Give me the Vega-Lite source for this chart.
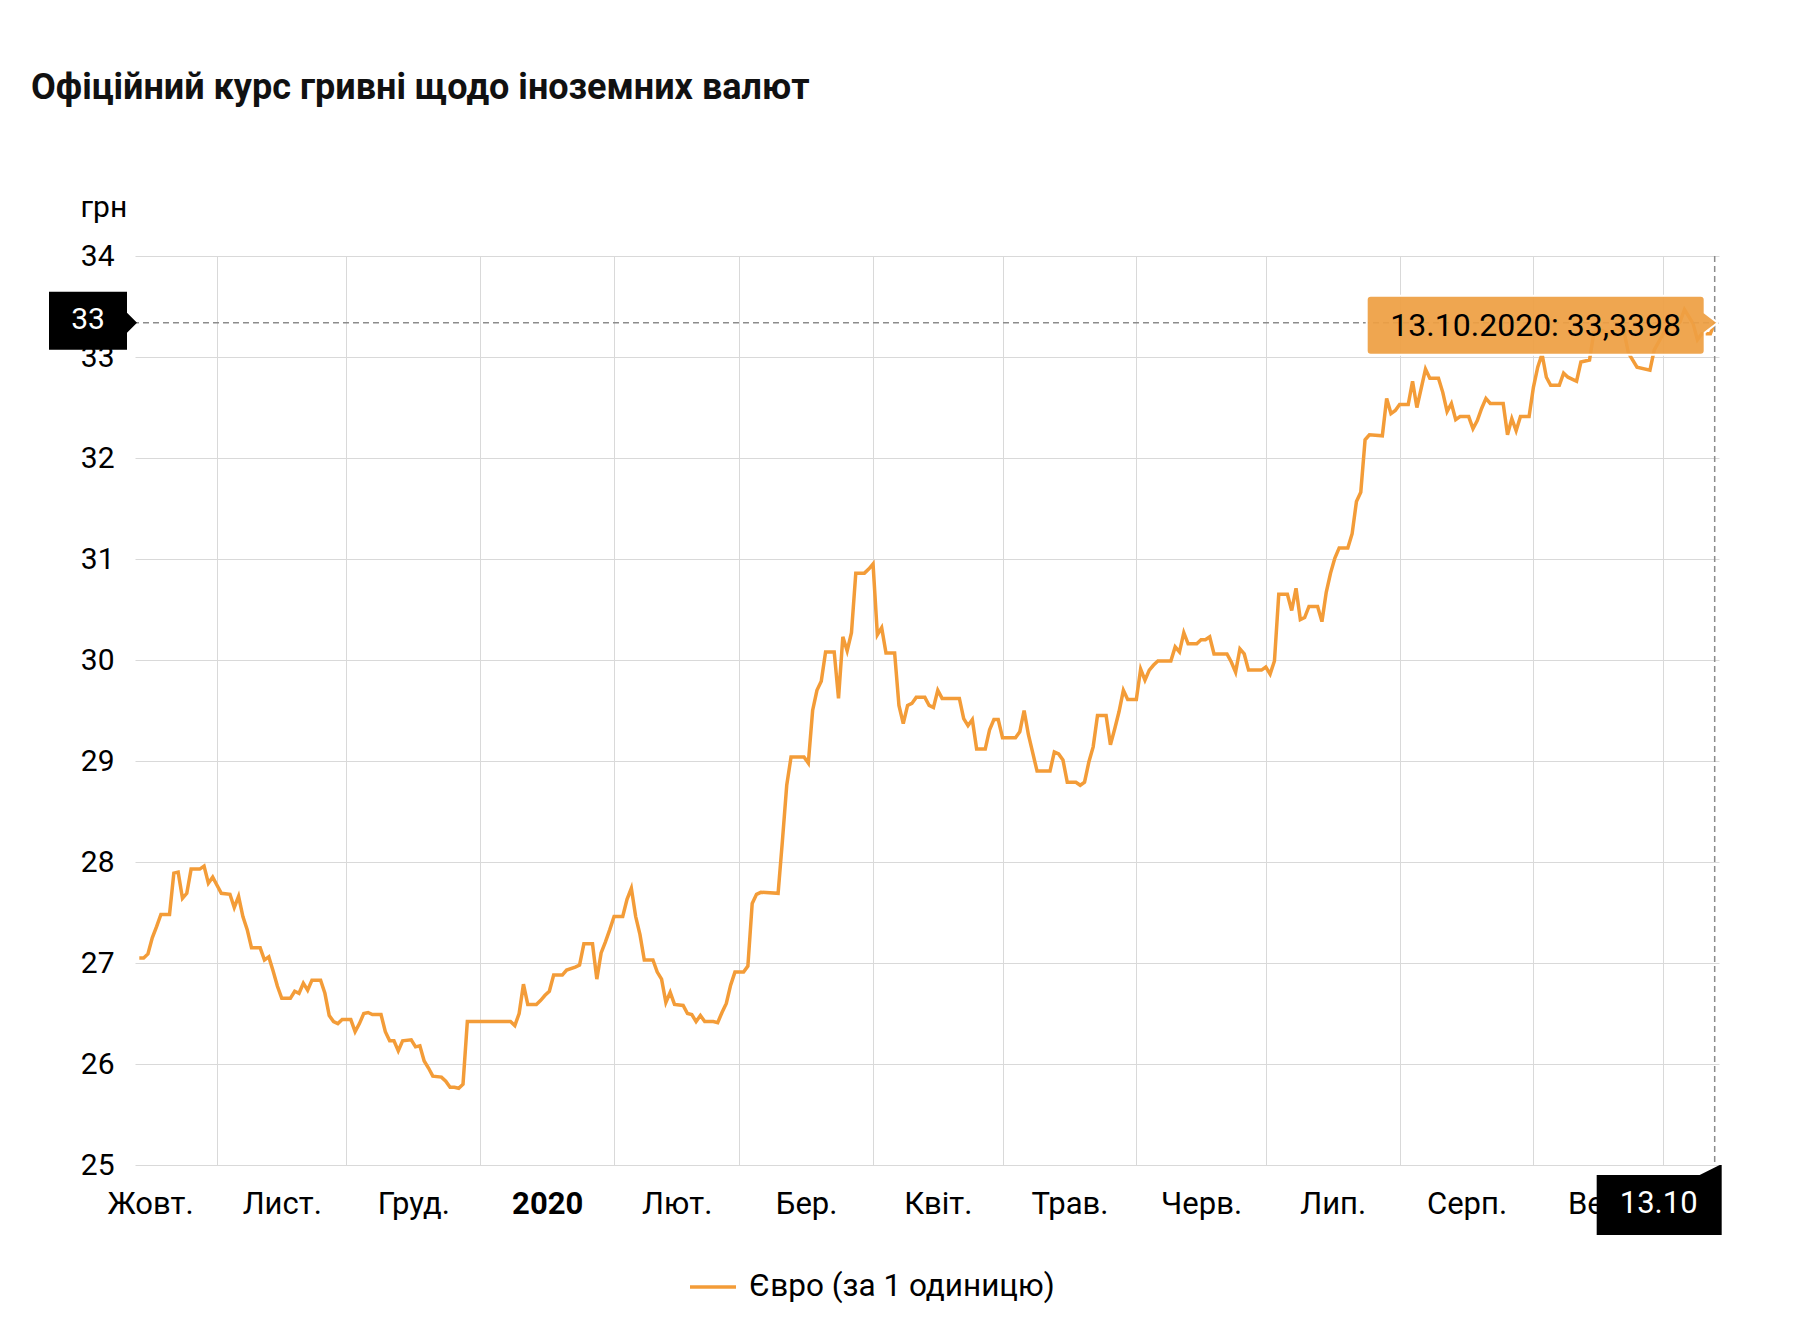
{
  "$schema": "https://vega.github.io/schema/vega-lite/v6.json",
  "width": 1584,
  "height": 909,
  "autosize": {"type": "none"},
  "padding": {"left": 135, "top": 256, "right": 89, "bottom": 179},
  "background": "#ffffff",
  "config": {"view": {"stroke": null}, "font": "Roboto"},
  "title": {
    "text": "Офіційний курс гривні щодо іноземних валют",
    "anchor": "start",
    "frame": "group",
    "orient": "top",
    "dx": -104,
    "offset": 85,
    "fontSize": 36,
    "fontWeight": "bold",
    "font": "Roboto",
    "color": "#111111"
  },
  "datasets": {
    "eur": [
      {"d": "2019-10-14", "v": 27.05}, {"d": "2019-10-15", "v": 27.05}, {"d": "2019-10-16", "v": 27.09}, {"d": "2019-10-17", "v": 27.25},
      {"d": "2019-10-18", "v": 27.36}, {"d": "2019-10-19", "v": 27.48}, {"d": "2019-10-21", "v": 27.48}, {"d": "2019-10-22", "v": 27.89},
      {"d": "2019-10-23", "v": 27.90}, {"d": "2019-10-24", "v": 27.64}, {"d": "2019-10-25", "v": 27.69}, {"d": "2019-10-26", "v": 27.93},
      {"d": "2019-10-28", "v": 27.93}, {"d": "2019-10-29", "v": 27.96}, {"d": "2019-10-30", "v": 27.79}, {"d": "2019-10-31", "v": 27.85},
      {"d": "2019-11-01", "v": 27.77}, {"d": "2019-11-02", "v": 27.69}, {"d": "2019-11-04", "v": 27.68}, {"d": "2019-11-05", "v": 27.55},
      {"d": "2019-11-06", "v": 27.66}, {"d": "2019-11-07", "v": 27.46}, {"d": "2019-11-08", "v": 27.33}, {"d": "2019-11-09", "v": 27.15},
      {"d": "2019-11-11", "v": 27.15}, {"d": "2019-11-12", "v": 27.03}, {"d": "2019-11-13", "v": 27.06}, {"d": "2019-11-14", "v": 26.92},
      {"d": "2019-11-15", "v": 26.77}, {"d": "2019-11-16", "v": 26.65}, {"d": "2019-11-18", "v": 26.65}, {"d": "2019-11-19", "v": 26.72},
      {"d": "2019-11-20", "v": 26.70}, {"d": "2019-11-21", "v": 26.80}, {"d": "2019-11-22", "v": 26.73}, {"d": "2019-11-23", "v": 26.83},
      {"d": "2019-11-25", "v": 26.83}, {"d": "2019-11-26", "v": 26.70}, {"d": "2019-11-27", "v": 26.48}, {"d": "2019-11-28", "v": 26.42},
      {"d": "2019-11-29", "v": 26.40}, {"d": "2019-11-30", "v": 26.44}, {"d": "2019-12-02", "v": 26.44}, {"d": "2019-12-03", "v": 26.32},
      {"d": "2019-12-04", "v": 26.40}, {"d": "2019-12-05", "v": 26.50}, {"d": "2019-12-06", "v": 26.51}, {"d": "2019-12-07", "v": 26.49},
      {"d": "2019-12-09", "v": 26.49}, {"d": "2019-12-10", "v": 26.32}, {"d": "2019-12-11", "v": 26.23}, {"d": "2019-12-12", "v": 26.23},
      {"d": "2019-12-13", "v": 26.13}, {"d": "2019-12-14", "v": 26.23}, {"d": "2019-12-16", "v": 26.24}, {"d": "2019-12-17", "v": 26.17},
      {"d": "2019-12-18", "v": 26.18}, {"d": "2019-12-19", "v": 26.03}, {"d": "2019-12-20", "v": 25.96}, {"d": "2019-12-21", "v": 25.88},
      {"d": "2019-12-23", "v": 25.87}, {"d": "2019-12-24", "v": 25.83}, {"d": "2019-12-25", "v": 25.77}, {"d": "2019-12-26", "v": 25.77},
      {"d": "2019-12-27", "v": 25.76}, {"d": "2019-12-28", "v": 25.80}, {"d": "2019-12-29", "v": 26.42}, {"d": "2020-01-08", "v": 26.42},
      {"d": "2020-01-09", "v": 26.38}, {"d": "2020-01-10", "v": 26.50}, {"d": "2020-01-11", "v": 26.79}, {"d": "2020-01-12", "v": 26.59},
      {"d": "2020-01-14", "v": 26.59}, {"d": "2020-01-15", "v": 26.63}, {"d": "2020-01-16", "v": 26.68}, {"d": "2020-01-17", "v": 26.72},
      {"d": "2020-01-18", "v": 26.88}, {"d": "2020-01-20", "v": 26.88}, {"d": "2020-01-21", "v": 26.93}, {"d": "2020-01-23", "v": 26.96},
      {"d": "2020-01-24", "v": 26.98}, {"d": "2020-01-25", "v": 27.19}, {"d": "2020-01-27", "v": 27.19}, {"d": "2020-01-28", "v": 26.84},
      {"d": "2020-01-29", "v": 27.10}, {"d": "2020-01-30", "v": 27.21}, {"d": "2020-01-31", "v": 27.33}, {"d": "2020-02-01", "v": 27.46},
      {"d": "2020-02-03", "v": 27.46}, {"d": "2020-02-04", "v": 27.63}, {"d": "2020-02-05", "v": 27.74}, {"d": "2020-02-06", "v": 27.46},
      {"d": "2020-02-07", "v": 27.28}, {"d": "2020-02-08", "v": 27.03}, {"d": "2020-02-10", "v": 27.03}, {"d": "2020-02-11", "v": 26.91},
      {"d": "2020-02-12", "v": 26.84}, {"d": "2020-02-13", "v": 26.61}, {"d": "2020-02-14", "v": 26.71}, {"d": "2020-02-15", "v": 26.59},
      {"d": "2020-02-17", "v": 26.58}, {"d": "2020-02-18", "v": 26.50}, {"d": "2020-02-19", "v": 26.49}, {"d": "2020-02-20", "v": 26.42},
      {"d": "2020-02-21", "v": 26.48}, {"d": "2020-02-22", "v": 26.42}, {"d": "2020-02-24", "v": 26.42}, {"d": "2020-02-25", "v": 26.41},
      {"d": "2020-02-26", "v": 26.51}, {"d": "2020-02-27", "v": 26.60}, {"d": "2020-02-28", "v": 26.78}, {"d": "2020-02-29", "v": 26.91},
      {"d": "2020-03-02", "v": 26.91}, {"d": "2020-03-03", "v": 26.97}, {"d": "2020-03-04", "v": 27.59}, {"d": "2020-03-05", "v": 27.68},
      {"d": "2020-03-06", "v": 27.70}, {"d": "2020-03-10", "v": 27.69}, {"d": "2020-03-11", "v": 28.21}, {"d": "2020-03-12", "v": 28.76},
      {"d": "2020-03-13", "v": 29.04}, {"d": "2020-03-16", "v": 29.04}, {"d": "2020-03-17", "v": 28.98}, {"d": "2020-03-18", "v": 29.50},
      {"d": "2020-03-19", "v": 29.70}, {"d": "2020-03-20", "v": 29.79}, {"d": "2020-03-21", "v": 30.08}, {"d": "2020-03-23", "v": 30.08},
      {"d": "2020-03-24", "v": 29.62}, {"d": "2020-03-25", "v": 30.23}, {"d": "2020-03-26", "v": 30.09}, {"d": "2020-03-27", "v": 30.27},
      {"d": "2020-03-28", "v": 30.86}, {"d": "2020-03-30", "v": 30.86}, {"d": "2020-03-31", "v": 30.90}, {"d": "2020-04-01", "v": 30.95},
      {"d": "2020-04-02", "v": 30.25}, {"d": "2020-04-03", "v": 30.32}, {"d": "2020-04-04", "v": 30.07}, {"d": "2020-04-06", "v": 30.07},
      {"d": "2020-04-07", "v": 29.55}, {"d": "2020-04-08", "v": 29.37}, {"d": "2020-04-09", "v": 29.55}, {"d": "2020-04-10", "v": 29.57},
      {"d": "2020-04-11", "v": 29.63}, {"d": "2020-04-13", "v": 29.63}, {"d": "2020-04-14", "v": 29.55}, {"d": "2020-04-15", "v": 29.53},
      {"d": "2020-04-16", "v": 29.70}, {"d": "2020-04-17", "v": 29.62}, {"d": "2020-04-21", "v": 29.62}, {"d": "2020-04-22", "v": 29.42},
      {"d": "2020-04-23", "v": 29.35}, {"d": "2020-04-24", "v": 29.41}, {"d": "2020-04-25", "v": 29.12}, {"d": "2020-04-27", "v": 29.12},
      {"d": "2020-04-28", "v": 29.31}, {"d": "2020-04-29", "v": 29.41}, {"d": "2020-04-30", "v": 29.41}, {"d": "2020-05-01", "v": 29.23},
      {"d": "2020-05-04", "v": 29.23}, {"d": "2020-05-05", "v": 29.29}, {"d": "2020-05-06", "v": 29.50}, {"d": "2020-05-07", "v": 29.26},
      {"d": "2020-05-08", "v": 29.08}, {"d": "2020-05-09", "v": 28.90}, {"d": "2020-05-12", "v": 28.90}, {"d": "2020-05-13", "v": 29.09},
      {"d": "2020-05-14", "v": 29.07}, {"d": "2020-05-15", "v": 29.01}, {"d": "2020-05-16", "v": 28.79}, {"d": "2020-05-18", "v": 28.79},
      {"d": "2020-05-19", "v": 28.76}, {"d": "2020-05-20", "v": 28.79}, {"d": "2020-05-21", "v": 28.99}, {"d": "2020-05-22", "v": 29.14},
      {"d": "2020-05-23", "v": 29.45}, {"d": "2020-05-25", "v": 29.45}, {"d": "2020-05-26", "v": 29.16}, {"d": "2020-05-27", "v": 29.32},
      {"d": "2020-05-28", "v": 29.49}, {"d": "2020-05-29", "v": 29.70}, {"d": "2020-05-30", "v": 29.61}, {"d": "2020-06-01", "v": 29.61},
      {"d": "2020-06-02", "v": 29.91}, {"d": "2020-06-03", "v": 29.80}, {"d": "2020-06-04", "v": 29.90}, {"d": "2020-06-05", "v": 29.95},
      {"d": "2020-06-06", "v": 29.99}, {"d": "2020-06-09", "v": 29.99}, {"d": "2020-06-10", "v": 30.13}, {"d": "2020-06-11", "v": 30.08},
      {"d": "2020-06-12", "v": 30.27}, {"d": "2020-06-13", "v": 30.16}, {"d": "2020-06-15", "v": 30.16}, {"d": "2020-06-16", "v": 30.20},
      {"d": "2020-06-17", "v": 30.20}, {"d": "2020-06-18", "v": 30.23}, {"d": "2020-06-19", "v": 30.06}, {"d": "2020-06-22", "v": 30.06},
      {"d": "2020-06-23", "v": 29.98}, {"d": "2020-06-24", "v": 29.88}, {"d": "2020-06-25", "v": 30.11}, {"d": "2020-06-26", "v": 30.06},
      {"d": "2020-06-27", "v": 29.90}, {"d": "2020-06-30", "v": 29.90}, {"d": "2020-07-01", "v": 29.93}, {"d": "2020-07-02", "v": 29.86},
      {"d": "2020-07-03", "v": 29.99}, {"d": "2020-07-04", "v": 30.65}, {"d": "2020-07-06", "v": 30.65}, {"d": "2020-07-07", "v": 30.49},
      {"d": "2020-07-08", "v": 30.71}, {"d": "2020-07-09", "v": 30.40}, {"d": "2020-07-10", "v": 30.42}, {"d": "2020-07-11", "v": 30.53},
      {"d": "2020-07-13", "v": 30.53}, {"d": "2020-07-14", "v": 30.38}, {"d": "2020-07-15", "v": 30.67}, {"d": "2020-07-16", "v": 30.86},
      {"d": "2020-07-17", "v": 31.01}, {"d": "2020-07-18", "v": 31.11}, {"d": "2020-07-20", "v": 31.11}, {"d": "2020-07-21", "v": 31.25},
      {"d": "2020-07-22", "v": 31.57}, {"d": "2020-07-23", "v": 31.66}, {"d": "2020-07-24", "v": 32.18}, {"d": "2020-07-25", "v": 32.23},
      {"d": "2020-07-28", "v": 32.22}, {"d": "2020-07-29", "v": 32.59}, {"d": "2020-07-30", "v": 32.44}, {"d": "2020-07-31", "v": 32.47},
      {"d": "2020-08-01", "v": 32.53}, {"d": "2020-08-03", "v": 32.53}, {"d": "2020-08-04", "v": 32.76}, {"d": "2020-08-05", "v": 32.50},
      {"d": "2020-08-06", "v": 32.69}, {"d": "2020-08-07", "v": 32.88}, {"d": "2020-08-08", "v": 32.79}, {"d": "2020-08-10", "v": 32.79},
      {"d": "2020-08-11", "v": 32.65}, {"d": "2020-08-12", "v": 32.46}, {"d": "2020-08-13", "v": 32.54}, {"d": "2020-08-14", "v": 32.38},
      {"d": "2020-08-15", "v": 32.41}, {"d": "2020-08-17", "v": 32.41}, {"d": "2020-08-18", "v": 32.29}, {"d": "2020-08-19", "v": 32.37},
      {"d": "2020-08-20", "v": 32.49}, {"d": "2020-08-21", "v": 32.59}, {"d": "2020-08-22", "v": 32.54}, {"d": "2020-08-25", "v": 32.54},
      {"d": "2020-08-26", "v": 32.23}, {"d": "2020-08-27", "v": 32.39}, {"d": "2020-08-28", "v": 32.27}, {"d": "2020-08-29", "v": 32.41},
      {"d": "2020-08-31", "v": 32.41}, {"d": "2020-09-01", "v": 32.70}, {"d": "2020-09-02", "v": 32.90}, {"d": "2020-09-03", "v": 33.03},
      {"d": "2020-09-04", "v": 32.80}, {"d": "2020-09-05", "v": 32.72}, {"d": "2020-09-07", "v": 32.72}, {"d": "2020-09-08", "v": 32.84},
      {"d": "2020-09-09", "v": 32.80}, {"d": "2020-09-11", "v": 32.76}, {"d": "2020-09-12", "v": 32.95}, {"d": "2020-09-14", "v": 32.97},
      {"d": "2020-09-15", "v": 33.24}, {"d": "2020-09-17", "v": 33.26}, {"d": "2020-09-19", "v": 33.22}, {"d": "2020-09-20", "v": 33.28},
      {"d": "2020-09-22", "v": 33.25}, {"d": "2020-09-23", "v": 33.04}, {"d": "2020-09-25", "v": 32.90}, {"d": "2020-09-28", "v": 32.87},
      {"d": "2020-09-29", "v": 33.07}, {"d": "2020-10-02", "v": 33.30}, {"d": "2020-10-04", "v": 33.30}, {"d": "2020-10-05", "v": 33.35},
      {"d": "2020-10-06", "v": 33.47}, {"d": "2020-10-08", "v": 33.33}, {"d": "2020-10-09", "v": 33.17}, {"d": "2020-10-10", "v": 33.23},
      {"d": "2020-10-12", "v": 33.23}, {"d": "2020-10-13", "v": 33.3398}
    ],
    "cur": [
      {"d": "2020-10-13", "v": 33.3398, "tip": "13.10.2020: 33,3398", "yl": "33", "xl": "13.10"}
    ]
  },
  "resolve": {"axis": {"x": "independent", "y": "independent"}},
  "layer": [
    {
      "data": {"name": "eur"},
      "mark": {"type": "line", "strokeWidth": 3.5, "interpolate": "linear"},
      "encoding": {
        "x": {
          "field": "d", "type": "temporal",
          "scale": {"type": "utc", "domain": [{"year": 2019, "month": 10, "date": 13, "utc": true}, {"year": 2020, "month": 10, "date": 14, "utc": true}]},
          "axis": {
            "orient": "bottom", "title": null, "labels": false, "ticks": false, "domain": false,
            "grid": true, "gridColor": "#d9d9d9", "gridWidth": 1,
            "values": [
              {"year": 2019, "month": 11, "date": 1, "utc": true}, {"year": 2019, "month": 12, "date": 1, "utc": true},
              {"year": 2020, "month": 1, "date": 1, "utc": true}, {"year": 2020, "month": 2, "date": 1, "utc": true},
              {"year": 2020, "month": 3, "date": 1, "utc": true}, {"year": 2020, "month": 4, "date": 1, "utc": true},
              {"year": 2020, "month": 5, "date": 1, "utc": true}, {"year": 2020, "month": 6, "date": 1, "utc": true},
              {"year": 2020, "month": 7, "date": 1, "utc": true}, {"year": 2020, "month": 8, "date": 1, "utc": true},
              {"year": 2020, "month": 9, "date": 1, "utc": true}, {"year": 2020, "month": 10, "date": 1, "utc": true}
            ]
          }
        },
        "y": {
          "field": "v", "type": "quantitative",
          "scale": {"domain": [25, 34], "nice": false, "zero": false},
          "axis": {
            "values": [25, 26, 27, 28, 29, 30, 31, 32, 33, 34],
            "grid": true, "gridColor": "#d9d9d9", "gridWidth": 1,
            "domain": false, "ticks": false,
            "labelFontSize": 30, "labelColor": "#000000", "labelFont": "Roboto", "labelPadding": 21,
            "title": "грн", "titleAngle": 0, "titleX": -55, "titleY": -40, "titleAlign": "left",
            "titleBaseline": "alphabetic", "titleFontSize": 30, "titleFontWeight": "normal",
            "titleColor": "#000000", "titleFont": "Roboto"
          }
        },
        "color": {
          "datum": "Євро (за 1 одиницю)", "type": "nominal",
          "scale": {"range": ["#f39c38"]},
          "legend": {
            "orient": "none", "legendX": 553, "legendY": 1006, "title": null, "padding": 0,
            "symbolType": "stroke", "symbolSize": 2116, "symbolStrokeWidth": 3.5,
            "labelFontSize": 31.5, "labelColor": "#000000", "labelFont": "Roboto", "labelOffset": 11, "labelLimit": 0
          }
        }
      }
    },
    {
      "data": {"name": "cur"},
      "mark": {"type": "rule", "color": "#8c8c8c", "strokeDash": [6, 4], "strokeWidth": 1.5},
      "encoding": {
        "x": {
          "field": "d", "type": "temporal",
          "axis": {
            "orient": "bottom", "title": null, "grid": false, "ticks": false, "domain": false,
            "labelFontSize": 31, "labelColor": "#000000", "labelFont": "Roboto", "labelPadding": 24,
            "labelOverlap": false, "labelFlush": false, "labelBound": false,
            "labelExpr": "['2020','Лют.','Бер.','Квіт.','Трав.','Черв.','Лип.','Серп.','Вер.','Жовт.','Лист.','Груд.'][utcmonth(datum.value)]",
            "labelFontWeight": {"condition": {"test": "utcmonth(datum.value) === 0", "value": "bold"}, "value": "normal"},
            "values": [
              {"year": 2019, "month": 10, "date": 16, "hours": 12, "utc": true}, {"year": 2019, "month": 11, "date": 16, "utc": true},
              {"year": 2019, "month": 12, "date": 16, "hours": 12, "utc": true}, {"year": 2020, "month": 1, "date": 16, "hours": 12, "utc": true},
              {"year": 2020, "month": 2, "date": 15, "hours": 12, "utc": true}, {"year": 2020, "month": 3, "date": 16, "hours": 12, "utc": true},
              {"year": 2020, "month": 4, "date": 16, "utc": true}, {"year": 2020, "month": 5, "date": 16, "hours": 12, "utc": true},
              {"year": 2020, "month": 6, "date": 16, "utc": true}, {"year": 2020, "month": 7, "date": 16, "hours": 12, "utc": true},
              {"year": 2020, "month": 8, "date": 16, "hours": 12, "utc": true}, {"year": 2020, "month": 9, "date": 16, "utc": true}
            ]
          }
        }
      }
    },
    {
      "data": {"name": "cur"},
      "mark": {"type": "rule", "color": "#8c8c8c", "strokeDash": [6, 4], "strokeWidth": 1.5},
      "encoding": {
        "y": {"field": "v", "type": "quantitative", "axis": null}
      }
    },
    {
      "data": {"name": "cur"},
      "mark": {
        "type": "point", "filled": true, "opacity": 1, "fill": "#ee9f43", "fillOpacity": 0.93,
        "stroke": "#ffffff", "strokeWidth": 2, "size": 4,
        "shape": "M-344,-27 L-14,-27 Q-10,-27 -10,-23 L-10,-10 L3,0 L-10,10 L-10,28 Q-10,32 -14,32 L-344,32 Q-348,32 -348,28 L-348,-23 Q-348,-27 -344,-27 Z"
      },
      "encoding": {
        "x": {"field": "d", "type": "temporal", "axis": null},
        "y": {"field": "v", "type": "quantitative", "axis": null}
      }
    },
    {
      "data": {"name": "cur"},
      "mark": {"type": "text", "align": "center", "baseline": "middle", "dx": -179, "dy": 3, "fontSize": 32, "font": "Roboto", "color": "#000000"},
      "encoding": {
        "x": {"field": "d", "type": "temporal", "axis": null},
        "y": {"field": "v", "type": "quantitative", "axis": null},
        "text": {"field": "tip"}
      }
    },
    {
      "data": {"name": "cur"},
      "mark": {
        "type": "point", "filled": true, "opacity": 1, "fill": "#000000", "size": 4, "strokeWidth": 0,
        "shape": "M-86,-31 L-8,-31 L-8,-10 L2,0 L-8,10 L-8,27 L-86,27 Z"
      },
      "encoding": {
        "x": {"value": 0},
        "y": {"field": "v", "type": "quantitative", "axis": null}
      }
    },
    {
      "data": {"name": "cur"},
      "mark": {"type": "text", "align": "center", "baseline": "middle", "dx": -47, "dy": -3, "fontSize": 30, "font": "Roboto", "color": "#ffffff"},
      "encoding": {
        "x": {"value": 0},
        "y": {"field": "v", "type": "quantitative", "axis": null},
        "text": {"field": "yl"}
      }
    },
    {
      "data": {"name": "cur"},
      "mark": {
        "type": "point", "filled": true, "opacity": 1, "fill": "#000000", "size": 4, "strokeWidth": 0,
        "shape": "M-118,10 L-15,10 L5,0 L7,0 L7,70 L-118,70 Z"
      },
      "encoding": {
        "x": {"field": "d", "type": "temporal", "axis": null},
        "y": {"datum": 25, "type": "quantitative", "axis": null}
      }
    },
    {
      "data": {"name": "cur"},
      "mark": {"type": "text", "align": "center", "baseline": "middle", "dx": -56, "dy": 39, "fontSize": 31, "font": "Roboto", "color": "#ffffff"},
      "encoding": {
        "x": {"field": "d", "type": "temporal", "axis": null},
        "y": {"datum": 25, "type": "quantitative", "axis": null},
        "text": {"field": "xl"}
      }
    }
  ]
}
